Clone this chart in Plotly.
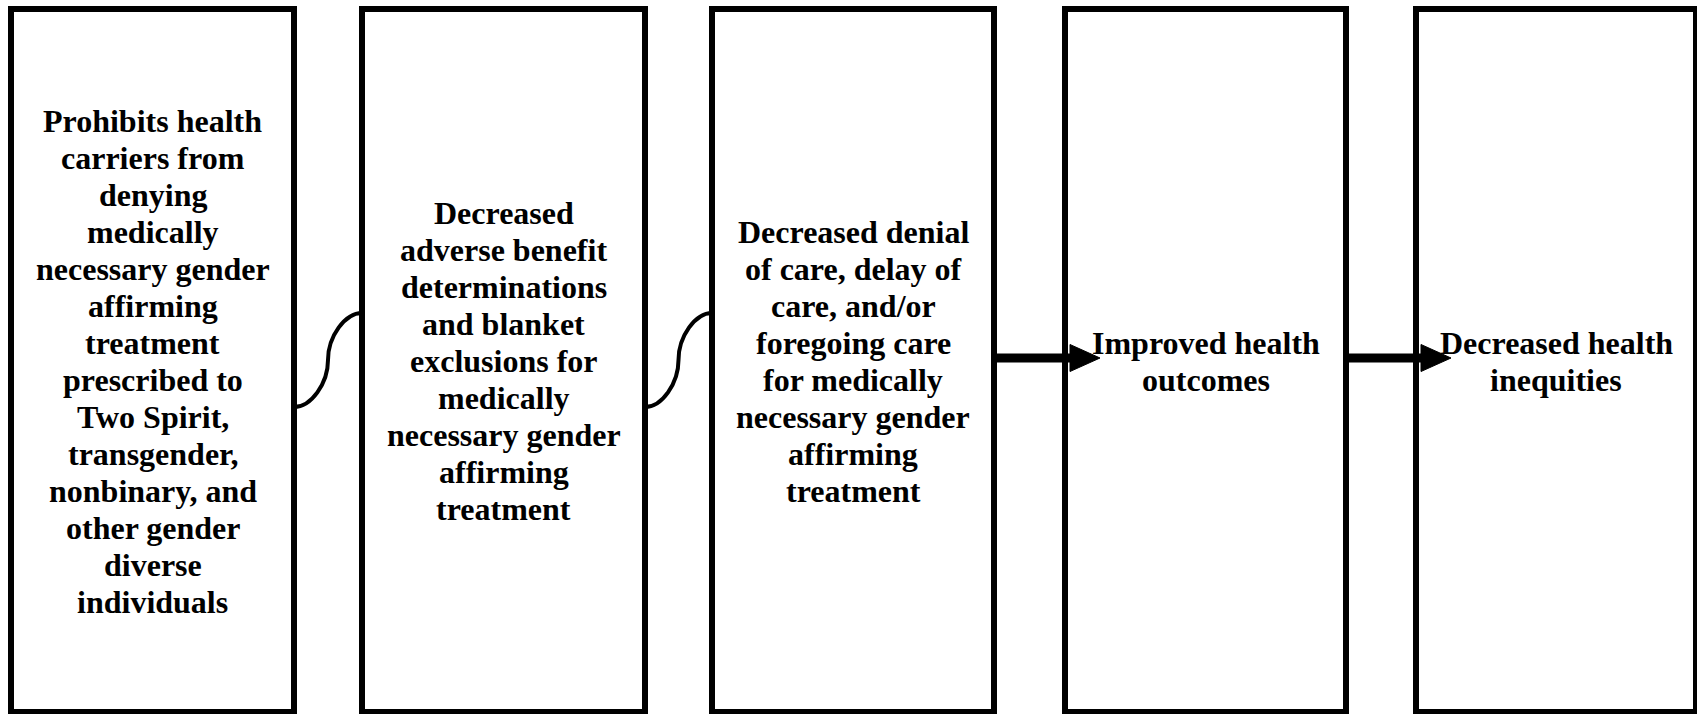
import plotly.graph_objects as go

# ---- content ----
box_texts = [
    ["Prohibits health", "carriers from", "denying", "medically", "necessary gender",
     "affirming", "treatment", "prescribed to", "Two Spirit,", "transgender,",
     "nonbinary, and", "other gender", "diverse", "individuals"],
    ["Decreased", "adverse benefit", "determinations", "and blanket", "exclusions for",
     "medically", "necessary gender", "affirming", "treatment"],
    ["Decreased denial", "of care, delay of", "care, and/or", "foregoing care",
     "for medically", "necessary gender", "affirming", "treatment"],
    ["Improved health", "outcomes"],
    ["Decreased health", "inequities"],
]
link_types = ["curve", "curve", "arrow", "arrow"]

# ---- layout constants ----
W, H = 1697, 714
box_left = [11, 362, 712, 1065, 1416]
box_right = [294, 645, 994, 1346, 1696]
box_top, box_bottom = 9, 712
text_mid = 361
line_gap = 37
font = dict(family="Liberation Serif, Times New Roman, serif", size=32, color="black")

fig = go.Figure()
shapes = []
annotations = []

for i, lines in enumerate(box_texts):
    x0, x1 = box_left[i], box_right[i]
    shapes.append(dict(type="rect", xref="x", yref="y", x0=x0, x1=x1, y0=box_top, y1=box_bottom,
                       line=dict(color="black", width=6), fillcolor="white", layer="below"))
    n = len(lines)
    cx = (x0 + x1) / 2
    for j, t in enumerate(lines):
        y = text_mid + (j - (n - 1) / 2) * line_gap
        annotations.append(dict(x=cx, y=y, xref="x", yref="y", text="<b>" + t + "</b>",
                                showarrow=False, xanchor="center", yanchor="middle", font=font))

for i, kind in enumerate(link_types):
    xa, xb = box_right[i], box_left[i + 1]
    if kind == "curve":
        y1, y2 = 407, 313
        xm = (xa + xb) / 2
        ym = (y1 + y2) / 2
        path = (f"M {xa},{y1} C {(xa + xm) / 2},{y1} {xm},{(y1 + ym) / 2} {xm},{ym} "
                f"C {xm},{(ym + y2) / 2} {(xm + xb) / 2},{y2} {xb},{y2}")
        shapes.append(dict(type="path", xref="x", yref="y", path=path,
                           line=dict(color="black", width=4)))
    else:
        ya = 358
        tip = xb + 35
        base = xb + 5
        shapes.append(dict(type="line", xref="x", yref="y", x0=xa, x1=base + 2, y0=ya, y1=ya,
                           line=dict(color="black", width=9)))
        shapes.append(dict(type="path", xref="x", yref="y",
                           path=f"M {base},{ya - 13.5} L {tip},{ya} L {base},{ya + 13.5} Z",
                           fillcolor="black", line=dict(color="black", width=1)))

fig.update_layout(
    width=W, height=H,
    margin=dict(l=0, r=0, t=0, b=0),
    paper_bgcolor="white", plot_bgcolor="white",
    xaxis=dict(range=[0, W], visible=False, fixedrange=True),
    yaxis=dict(range=[H, 0], visible=False, fixedrange=True),
    shapes=shapes, annotations=annotations,
    showlegend=False,
)

fig.write_html("out.html", config={"displayModeBar": False},
               post_script="document.body.style.margin='0';document.body.style.overflow='hidden';")
